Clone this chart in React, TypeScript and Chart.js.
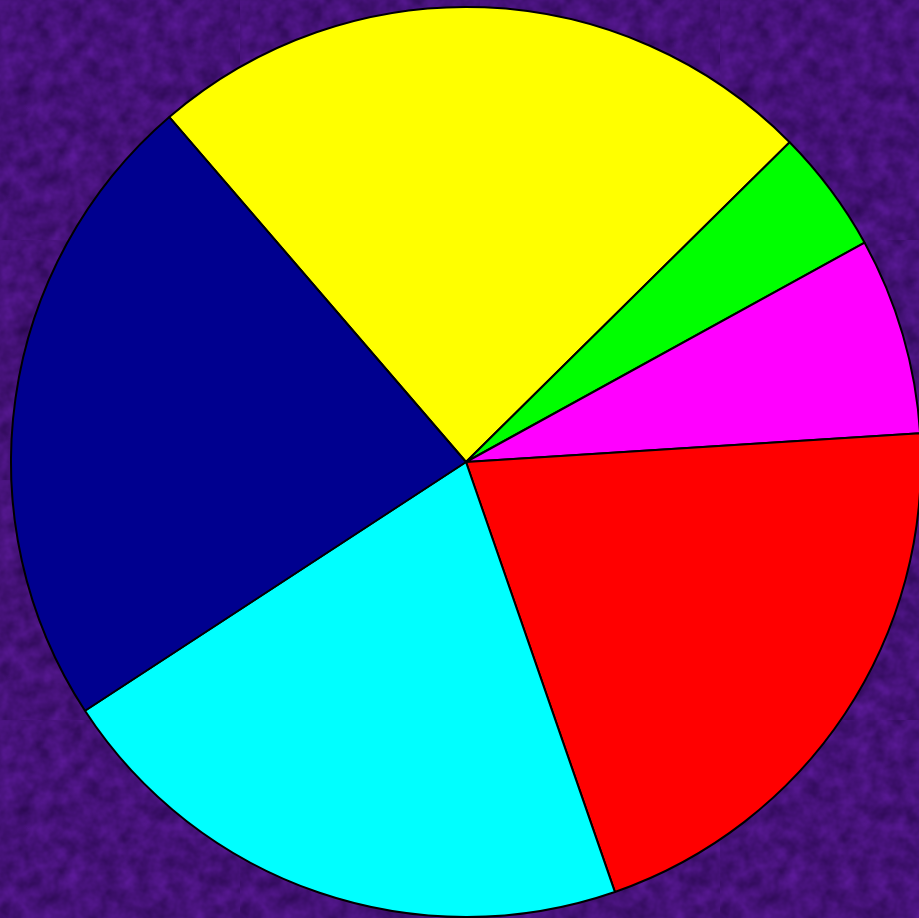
import React, { useEffect, useRef } from "react";
import { Chart, registerables } from "chart.js";

Chart.register(...registerables);

const categories = ["Yellow", "Green", "Magenta", "Red", "Cyan", "Navy"];
const values = [23.9, 4.4, 7.0, 20.7, 21.1, 22.9];
const colors = ["#ffff00", "#00ff00", "#ff00ff", "#ff0000", "#00ffff", "#00008f"];
const startAngle = -40.7;

const noiseSvg =
  "data:image/svg+xml;utf8," +
  encodeURIComponent(
    "<svg xmlns='http://www.w3.org/2000/svg' width='240' height='240'>" +
      "<filter id='n' color-interpolation-filters='sRGB'><feTurbulence type='fractalNoise' baseFrequency='0.06' numOctaves='3' stitchTiles='stitch'/>" +
      "<feColorMatrix type='matrix' values='0.22 0 0 0 0.16  0.08 0 0 0 0.03  0.32 0 0 0 0.31  0 0 0 0 1'/></filter>" +
      "<rect width='240' height='240' filter='url(#n)'/></svg>"
  );

export default function App() {
  const ref = useRef<HTMLCanvasElement | null>(null);

  useEffect(() => {
    document.body.style.margin = "0";
    document.body.style.overflow = "hidden";
    document.body.style.background = "#46147c";
    const chart = new Chart(ref.current as HTMLCanvasElement, {
      type: "pie",
      data: {
        labels: categories,
        datasets: [
          {
            data: values,
            backgroundColor: colors,
            borderColor: "#000000",
            borderWidth: 2,
          },
        ],
      },
      options: {
        animation: false,
        responsive: false,
        rotation: startAngle,
        layout: { padding: 6 },
        plugins: {
          legend: { display: false },
          tooltip: { enabled: false },
        },
      },
    });
    return () => chart.destroy();
  }, []);

  return (
    <div
      style={{
        position: "fixed",
        left: 0,
        top: 0,
        width: 919,
        height: 918,
        overflow: "hidden",
        backgroundColor: "#46147c",
        backgroundImage: `url("${noiseSvg}")`,
      }}
    >
      <canvas ref={ref} width={932} height={924} style={{ display: "block", width: 932, height: 924 }} />
    </div>
  );
}
